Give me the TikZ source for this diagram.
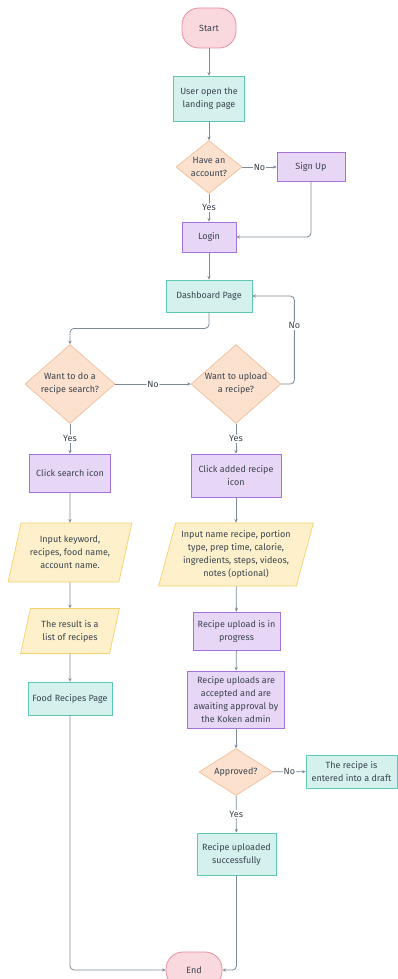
\documentclass[tikz,border=0pt]{standalone}
\usepackage{fontspec}
\setmainfont{Fira Sans}
\usetikzlibrary{shapes.geometric,arrows.meta,calc}

\definecolor{txt}{HTML}{39434E}
\definecolor{lnk}{HTML}{7D8B98}
\definecolor{pinkf}{HTML}{F9D9DE}
\definecolor{pinkb}{HTML}{E78FA0}
\definecolor{tealf}{HTML}{D5F1EE}
\definecolor{tealb}{HTML}{5CC8B5}
\definecolor{purpf}{HTML}{E8D6F7}
\definecolor{purpb}{HTML}{A473D9}
\definecolor{peachf}{HTML}{FCE1CE}
\definecolor{peachb}{HTML}{F3BE97}
\definecolor{yelf}{HTML}{FDF0CB}
\definecolor{yelb}{HTML}{F5D26C}

\begin{document}
\begin{tikzpicture}[x=1pt,y=-1pt,
  font=\fontsize{9}{13}\selectfont, text=txt,
  box/.style={rectangle, draw, line width=0.8pt, align=center, inner sep=2pt},
  term/.style={box, rounded corners=17pt, draw=pinkb, fill=pinkf},
  tealbox/.style={box, draw=tealb, fill=tealf},
  purpbox/.style={box, draw=purpb, fill=purpf},
  dec/.style={diamond, draw=peachb, fill=peachf, line width=0.7pt,
    align=center, inner sep=0pt},
  io/.style={trapezium, trapezium left angle=72, trapezium right angle=108,
    trapezium stretches=true, draw=yelb, fill=yelf, line width=0.7pt,
    align=center, inner sep=0pt},
  arr/.style={draw=lnk, line width=0.8pt, rounded corners=4pt,
    -{Stealth[length=3.5pt,width=3.2pt]}},
  lbl/.style={fill=white, inner sep=1pt, text=txt}
]
\useasboundingbox[fill=white] (0,0) rectangle (397,979);

% top: entry and account check
\node[term, minimum width=54pt, minimum height=40pt] (start) at (209,28) {Start};
\node[tealbox, minimum width=71pt, minimum height=45pt] (land) at (209,98.5) {User open the\\landing page};
\node[dec, minimum width=66pt, minimum height=53pt, aspect=1.25] (acc) at (209,167) {Have an\\account?};
\node[purpbox, minimum width=68pt, minimum height=29pt] (signup) at (311,167) {Sign Up};
\node[purpbox, minimum width=54pt, minimum height=30pt] (login) at (209,237) {Login};
\node[tealbox, minimum width=86pt, minimum height=32pt] (dash) at (209,296) {Dashboard Page};

% decisions
\node[dec, minimum width=90pt, minimum height=79pt, aspect=1.14] (sq) at (70,384) {Want to do a\\recipe search?};
\node[dec, minimum width=90pt, minimum height=79pt, aspect=1.14] (uq) at (236,384) {Want to upload\\a recipe?};

% search branch
\node[purpbox, minimum width=81pt, minimum height=38pt] (clicks) at (70,473) {Click search icon};
\node[io, minimum width=124pt, minimum height=59pt] (inkey) at (70,552.5) {Input keyword,\\recipes, food name,\\account name.};
\node[io, minimum width=99pt, minimum height=45pt] (result) at (70,631) {The result is a\\list of recipes};
\node[tealbox, minimum width=84pt, minimum height=33pt] (food) at (70,698.5) {Food Recipes Page};

% upload branch
\node[purpbox, minimum width=90pt, minimum height=43pt] (clicku) at (236,475.5) {Click added recipe\\icon};
\node[io, minimum width=155pt, minimum height=63pt] (inrec) at (236,554.5) {Input name recipe, portion\\type, prep time, calorie,\\ingredients, steps, videos,\\notes (optional)};
\node[purpbox, minimum width=87pt, minimum height=38pt] (prog) at (236.5,631) {Recipe upload is in\\progress};
\node[purpbox, minimum width=97pt, minimum height=57pt] (await) at (236,699.5) {Recipe uploads are\\accepted and are\\awaiting approval by\\the Koken admin};
\node[dec, minimum width=74pt, minimum height=47pt, aspect=1.57] (appr) at (236,772) {Approved?};
\node[tealbox, minimum width=91pt, minimum height=33pt] (draft) at (351.5,771.5) {The recipe is\\entered into a draft};
\node[tealbox, minimum width=79pt, minimum height=42pt] (ok) at (236.5,854) {Recipe uploaded\\successfully};

\node[term, minimum width=56pt, minimum height=36pt] (end) at (194,970) {End};

% connectors
\draw[arr] (start) -- (land);
\draw[arr] (land) -- (acc);
\draw[arr] (acc) -- node[lbl]{No} (signup);
\draw[arr] (acc) -- node[lbl]{Yes} (login);
\draw[arr] (signup.south) |- (login.east);
\draw[arr] (login) -- (dash);
\draw[arr] (dash.south) -- ++(0,16) -| (sq.north);
\draw[arr] (sq) -- node[lbl]{No} (uq);
\draw[arr] (uq.east) -- ++(13,0) |- node[lbl, pos=0.33]{No} (dash.east);
\draw[arr] (sq) -- node[lbl]{Yes} (clicks);
\draw[arr] (uq) -- node[lbl]{Yes} (clicku);
\draw[arr] (clicks) -- (inkey);
\draw[arr] (inkey) -- (result);
\draw[arr] (result) -- (food);
\draw[arr] (clicku) -- (inrec);
\draw[arr] (inrec) -- (prog);
\draw[arr] (prog) -- (await);
\draw[arr] (await) -- (appr);
\draw[arr] (appr) -- node[lbl]{No} (draft);
\draw[arr] (appr) -- node[lbl]{Yes} (ok);
\draw[arr] (food.south) |- (end.west);
\draw[arr] (ok.south) |- (end.east);
\end{tikzpicture}
\end{document}
